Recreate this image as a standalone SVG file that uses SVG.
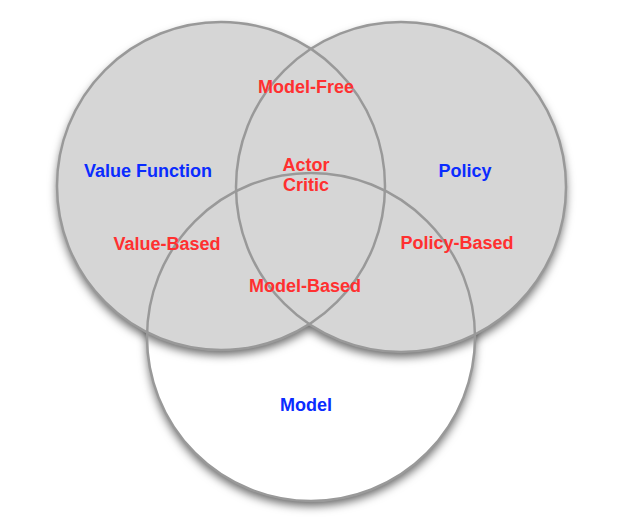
<svg xmlns="http://www.w3.org/2000/svg" width="626" height="526" viewBox="0 0 626 526">
  <defs>
    <filter id="shadow" x="-20%" y="-20%" width="140%" height="140%">
      <feDropShadow dx="0" dy="5" stdDeviation="5" flood-color="#000" flood-opacity="0.6"/>
    </filter>
  </defs>
  <style>
    .ring { fill: none; stroke: #999999; stroke-width: 2.5; }
    .gray { fill: #d6d6d6; }
    .white { fill: #ffffff; }
    text { font-family: "Liberation Sans", Arial, sans-serif; font-weight: bold; font-size: 18px; text-anchor: middle; }
    .set { fill: #0a2cff; }
    .method { fill: #ff3030; }
  </style>
  <g id="fills">
    <circle class="white" cx="311" cy="337" r="164" filter="url(#shadow)"/>
    <g filter="url(#shadow)">
      <circle class="gray" cx="221" cy="186" r="164"/>
      <circle class="gray" cx="401" cy="187" r="165"/>
    </g>
  </g>
  <g id="node-model">
    <circle class="ring" cx="311" cy="337" r="164"/>
    <text class="set" x="306" y="411">Model</text>
  </g>
  <g id="node-value-function">
    <circle class="ring" cx="221" cy="186" r="164"/>
    <text class="set" x="148" y="177">Value Function</text>
  </g>
  <g id="node-policy">
    <circle class="ring" cx="401" cy="187" r="165"/>
    <text class="set" x="465" y="177">Policy</text>
  </g>
  <g id="labels">
    <text class="method" x="306" y="93">Model-Free</text>
    <text class="method" x="306" y="171">Actor</text>
    <text class="method" x="306" y="191">Critic</text>
    <text class="method" x="167" y="250">Value-Based</text>
    <text class="method" x="457" y="249">Policy-Based</text>
    <text class="method" x="305" y="292">Model-Based</text>
  </g>
</svg>
